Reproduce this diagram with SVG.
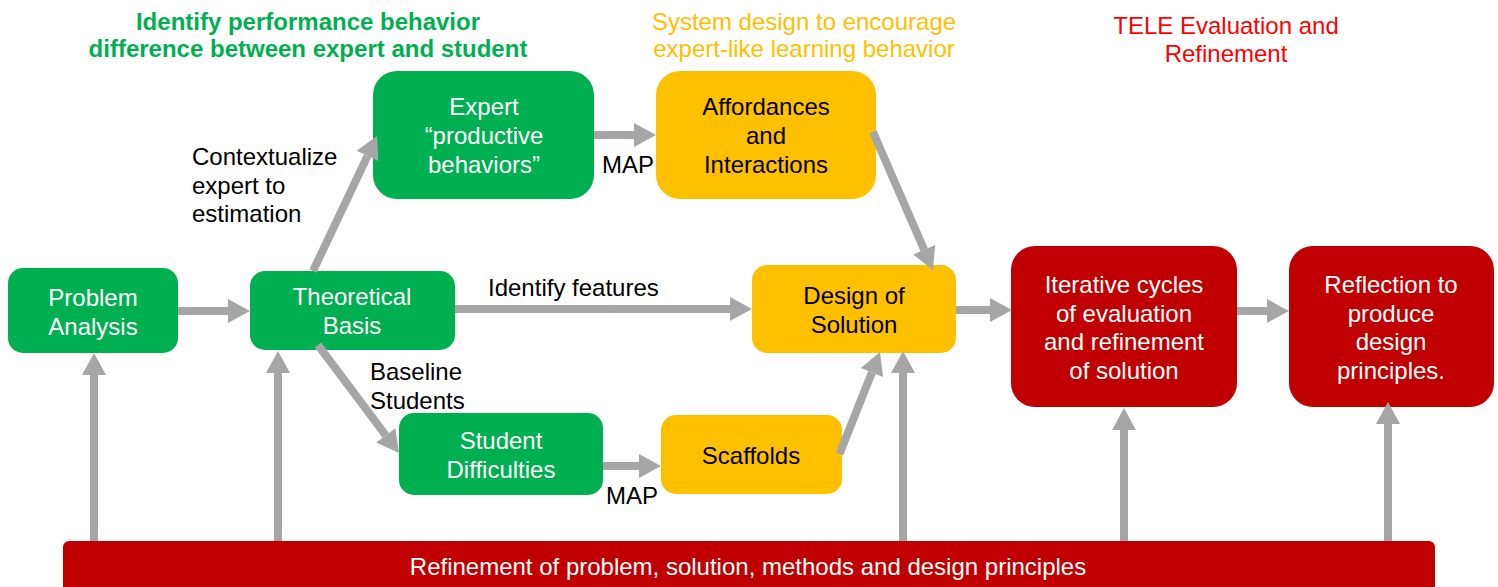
<svg xmlns="http://www.w3.org/2000/svg" width="1498" height="587" viewBox="0 0 1498 587">
<defs>
<style>
text{font-family:"Liberation Sans",Arial,sans-serif;font-size:24px}
.w{fill:#fff;text-anchor:middle}
.k{fill:#000;text-anchor:middle}
.l{fill:#000}
.g{fill:#00B050}
.o{fill:#FFC000}
.r{fill:#C00000}
.c line{stroke:#A6A6A6;stroke-width:8;marker-end:url(#ah)}
</style>
<marker id="ah" markerUnits="userSpaceOnUse" markerWidth="22" markerHeight="24" refX="0" refY="12" orient="auto" overflow="visible">
<path d="M0,0 L22,12 L0,24 Z" fill="#A6A6A6"/>
</marker>
</defs>
<rect width="1498" height="587" fill="#fff"/>

<g id="titles">
<text x="308" y="30" text-anchor="middle" fill="#00B050" font-weight="bold">Identify performance behavior</text>
<text x="308" y="57" text-anchor="middle" fill="#00B050" font-weight="bold">difference between expert and student</text>
<text x="804" y="30" text-anchor="middle" fill="#FFC000">System design to encourage</text>
<text x="804" y="57" text-anchor="middle" fill="#FFC000">expert-like learning behavior</text>
<text x="1226" y="34" text-anchor="middle" fill="#FF0000">TELE Evaluation and</text>
<text x="1226" y="62" text-anchor="middle" fill="#FF0000">Refinement</text>
</g>

<g id="bar">
<rect class="r" x="63" y="541" width="1372" height="60" rx="6"/>
<text class="w" x="748" y="575">Refinement of problem, solution, methods and design principles</text>
</g>

<g id="problem-analysis">
<rect class="g" x="8" y="268" width="170" height="85" rx="15"/>
<text class="w" x="93" y="306">Problem</text>
<text class="w" x="93" y="335">Analysis</text>
</g>
<g id="theoretical-basis">
<rect class="g" x="250" y="271" width="205" height="79" rx="15"/>
<text class="w" x="352" y="305">Theoretical</text>
<text class="w" x="352" y="334">Basis</text>
</g>
<g id="expert">
<rect class="g" x="373" y="71" width="221" height="128" rx="24"/>
<text class="w" x="484" y="115">Expert</text>
<text class="w" x="484" y="144">“productive</text>
<text class="w" x="484" y="173">behaviors”</text>
</g>
<g id="student-difficulties">
<rect class="g" x="399" y="413" width="204" height="82" rx="15"/>
<text class="w" x="501" y="449">Student</text>
<text class="w" x="501" y="478">Difficulties</text>
</g>
<g id="affordances">
<rect class="o" x="656" y="71" width="220" height="128" rx="24"/>
<text class="k" x="766" y="115">Affordances</text>
<text class="k" x="766" y="144">and</text>
<text class="k" x="766" y="173">Interactions</text>
</g>
<g id="design-of-solution">
<rect class="o" x="752" y="265" width="204" height="88" rx="15"/>
<text class="k" x="854" y="304">Design of</text>
<text class="k" x="854" y="333">Solution</text>
</g>
<g id="scaffolds">
<rect class="o" x="661" y="415" width="181" height="79" rx="15"/>
<text class="k" x="751" y="464">Scaffolds</text>
</g>
<g id="iterative-cycles">
<rect class="r" x="1011" y="246" width="226" height="161" rx="24"/>
<text class="w" x="1124" y="293">Iterative cycles</text>
<text class="w" x="1124" y="322">of evaluation</text>
<text class="w" x="1124" y="350">and refinement</text>
<text class="w" x="1124" y="379">of solution</text>
</g>
<g id="reflection">
<rect class="r" x="1289" y="246" width="205" height="161" rx="24"/>
<text class="w" x="1391" y="293">Reflection to</text>
<text class="w" x="1391" y="322">produce</text>
<text class="w" x="1391" y="350">design</text>
<text class="w" x="1391" y="379">principles.</text>
</g>

<g id="connectors" class="c">
<line x1="178" y1="311" x2="228" y2="311"/>
<line x1="455" y1="309" x2="730" y2="309"/>
<line x1="594" y1="135" x2="634" y2="135"/>
<line x1="603" y1="466" x2="639" y2="466"/>
<line x1="956" y1="310" x2="990" y2="310"/>
<line x1="1237" y1="311" x2="1267" y2="311"/>
<line x1="313" y1="271" x2="367.6" y2="155.9"/>
<line x1="318" y1="345" x2="385.8" y2="435.4"/>
<line x1="873" y1="132" x2="924.2" y2="249.8"/>
<line x1="839.5" y1="454" x2="871.9" y2="372.5"/>
<line x1="94" y1="541" x2="94" y2="375"/>
<line x1="278" y1="541" x2="278" y2="373"/>
<line x1="903" y1="541" x2="903" y2="373"/>
<line x1="1124" y1="541" x2="1124" y2="430"/>
<line x1="1388" y1="541" x2="1388" y2="424"/>
</g>

<g id="labels">
<text class="l" x="192" y="165">Contextualize</text>
<text class="l" x="192" y="194">expert to</text>
<text class="l" x="192" y="222">estimation</text>
<text class="l" x="488" y="296">Identify features</text>
<text class="l" x="602" y="173">MAP</text>
<text class="l" x="370" y="380">Baseline</text>
<text class="l" x="370" y="409">Students</text>
<text class="l" x="606" y="504">MAP</text>
</g>
</svg>
